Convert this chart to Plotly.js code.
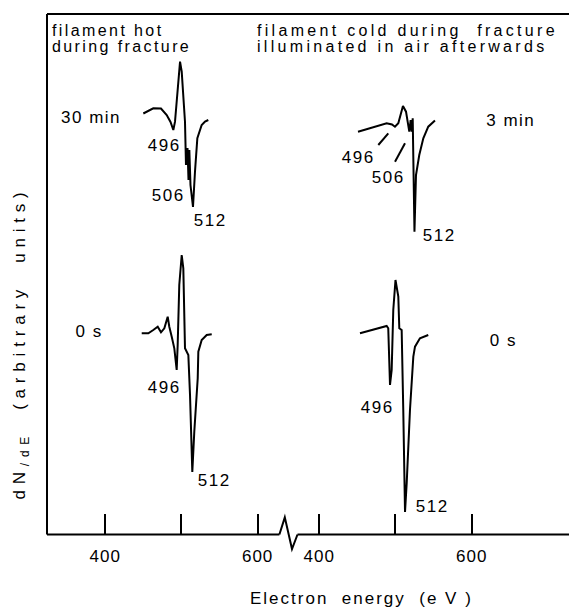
<!DOCTYPE html>
<html>
<head>
<meta charset="utf-8">
<script src="https://cdn.plot.ly/plotly-3.0.1.min.js"></script>
<style>
  html, body { margin: 0; padding: 0; background: #fff; }
  #chart { width: 569px; height: 611px; }
  .annotation text { letter-spacing: 1.5px; }
  .annotation[data-index="0"] text, .annotation[data-index="1"] text { letter-spacing: 2.4px; }
  .annotation[data-index="2"] text, .annotation[data-index="3"] text { letter-spacing: 3.3px; }
  .annotation[data-index="4"] text { letter-spacing: 5.8px; }
  .annotation[data-index="5"] text { letter-spacing: 2px; }
  .xtick text, .x2tick text { letter-spacing: 1px; }
</style>
</head>
<body>
<div id="chart"></div>
<script>
// ---- data (energy in eV on each panel's axis, dN/dE in arbitrary units) ----
const tickVals = [400, 600];
const tickText = ['400', '600'];
const minorTickVals = [500];

// left panel, upper: filament hot during fracture, 30 min
const hot30E = [450.0, 463.1, 473.2, 480.7, 485.7, 489.4, 491.6, 494.6, 498.2, 500.4, 502.8, 504.7, 506.0, 508.0, 509.3, 510.4, 511.9, 515.2, 517.8, 520.9, 526.6, 531.0, 535.3];
const hot30Y = [420.5, 425.7, 425.5, 419, 412, 404, 412.3, 439, 472.3, 462.3, 434, 412.3, 369, 386, 354, 384, 349, 327, 362, 395.7, 409, 412.5, 414];

// left panel, lower: filament hot during fracture, 0 s
const hot0E = [447.9, 456.6, 463.1, 468.9, 473.2, 477.6, 482.0, 484.1, 487.3, 490.7, 493.8, 495.1, 497.2, 500.4, 502.5, 503.8, 504.7, 509.1, 511.3, 514.3, 516.9, 521.4, 522.2, 526.6, 533.2, 539.8];
const hot0Y = [200.7, 200.7, 204, 207.3, 201.7, 205.7, 217.3, 207.3, 197.3, 185.7, 164, 189, 249, 279, 265.7, 222.3, 185.7, 179, 139, 62, 102.3, 155.7, 182.3, 194, 199, 199.7];

// right panel, upper: filament cold, illuminated in air, 3 min
const cold3E = [450.8, 461.3, 475.3, 488.4, 495.4, 499.3, 503.7, 506.6, 509.8, 513.8, 516.8, 518.1, 519.9, 521.3, 522.6, 523.6, 524.9, 526.9, 531.2, 536.5, 543.0, 551.8];
const cold3Y = [402.3, 404.5, 407.3, 410.7, 409.5, 407.3, 410.7, 420, 428, 422.3, 409, 402.3, 414, 402.3, 415.7, 374, 302.3, 359, 379, 395.7, 407.3, 413.5];

// right panel, lower: filament cold, 0 s
const cold0E = [453.4, 473.1, 488.4, 490.5, 492.8, 495.0, 497.1, 500.0, 503.7, 505.0, 508.1, 510.2, 512.5, 514.7, 519.0, 523.4, 525.6, 532.1, 543.0];
const cold0Y = [200.7, 204.7, 208, 205.7, 149, 164, 224, 254, 237.3, 205.7, 204, 124, 22, 50.7, 124, 177.3, 187.3, 195.7, 199];

const headerTexts = ['filament hot', 'during fracture', 'filament cold during\u00a0 fracture', 'illuminated in air afterwards'];
const timeLabels = ['30 min', '3 min', '0 s', '0 s'];
const peakLabels = ['496', '506', '512', '496', '506', '512', '496', '512', '496', '512'];
const yTitle = 'dN<sub>/dE</sub>\u00a0 (arbitrary\u00a0 units)';
const xTitle = 'Electron\u00a0 energy\u00a0 (e\u00a0V\u00a0)';

// ---- layout geometry (pixels of the 569x611 page) ----
const W = 569, H = 611, L = 47, R = 0, T = 14, B = 77;
const PW = W - L - R, PH = H - T - B;
const px = v => (v - L) / PW;
const py = v => (H - B - v) / PH;

const font = 'Liberation Sans, Arial, sans-serif';
const line = {color: '#000', width: 2};

const traces = [
  {x: hot30E, y: hot30Y, xaxis: 'x', yaxis: 'y'},
  {x: hot0E, y: hot0Y, xaxis: 'x', yaxis: 'y'},
  {x: cold3E, y: cold3Y, xaxis: 'x2', yaxis: 'y'},
  {x: cold0E, y: cold0Y, xaxis: 'x2', yaxis: 'y'}
].map(t => Object.assign(t, {type: 'scatter', mode: 'lines', line: {color: '#000', width: 2}, hoverinfo: 'skip', showlegend: false}));

function ann(text, x, y, opts, size) {
  return Object.assign({text: text, x: px(x), y: py(y), xref: 'paper', yref: 'paper',
    showarrow: false, xanchor: 'center', yanchor: 'middle',
    font: {family: font, size: size || 17, color: '#000'}}, opts || {});
}

const annotations = [
  ann(headerTexts[0], 50, 30, {xanchor: 'left', align: 'left'}, 16),
  ann(headerTexts[1], 50, 46, {xanchor: 'left', align: 'left'}, 16),
  ann(headerTexts[2], 255, 30, {xanchor: 'left', align: 'left'}, 16),
  ann(headerTexts[3], 255, 46, {xanchor: 'left', align: 'left'}, 16),
  ann(yTitle, 21, 343, {textangle: -90}),
  ann(xTitle, 361, 598),
  ann(timeLabels[0], 123, 118, {xanchor: 'right', align: 'right'}),
  ann(timeLabels[1], 511, 120),
  ann(timeLabels[2], 105, 331, {xanchor: 'right', align: 'right'}),
  ann(timeLabels[3], 503, 340),
  ann(peakLabels[0], 164, 145),
  ann(peakLabels[1], 168, 195.5),
  ann(peakLabels[2], 210, 220),
  ann(peakLabels[3], 358, 157),
  ann(peakLabels[4], 388, 177.5),
  ann(peakLabels[5], 439, 235),
  ann(peakLabels[6], 164, 387.5),
  ann(peakLabels[7], 213.5, 480.5),
  ann(peakLabels[8], 377, 407.5),
  ann(peakLabels[9], 432, 506)
];

function seg(x0, y0, x1, y1) {
  return {type: 'line', xref: 'paper', yref: 'paper', x0: px(x0), y0: py(y0), x1: px(x1), y1: py(y1), line: line};
}
const shapes = [
  seg(47, 14, 569, 14),            // top frame
  seg(47, 14, 47, 534.5),          // left frame
  seg(47, 534.5, 279.4, 534.5),    // bottom axis, left part
  {type: 'path', xref: 'paper', yref: 'paper', line: line,
   path: 'M ' + px(279.4) + ' ' + py(534.5) + ' L ' + px(284.8) + ' ' + py(517.4) +
         ' L ' + px(292) + ' ' + py(549) + ' L ' + px(297.5) + ' ' + py(534.5)},
  seg(297.5, 534.5, 569, 534.5),   // bottom axis, right part
  seg(378.3, 145, 388.3, 133.3),   // leader 496
  seg(395, 161.7, 405, 143.3)      // leader 506
];

const axisCommon = {
  tickmode: 'array', tickvals: tickVals, ticktext: tickText, ticks: 'inside', ticklen: 20, tickwidth: 2, tickcolor: '#000',
  minor: {tickmode: 'array', tickvals: minorTickVals, ticks: 'inside', ticklen: 20, tickwidth: 2, tickcolor: '#000', showgrid: false},
  showline: false, showgrid: false, zeroline: false, anchor: 'y', fixedrange: true,
  tickfont: {family: font, size: 17, color: '#000'}, ticklabelstandoff: 10
};

const layout = {
  width: W, height: H,
  margin: {l: L, r: R, t: T, b: B, pad: 0},
  paper_bgcolor: '#fff', plot_bgcolor: '#fff',
  showlegend: false,
  xaxis: Object.assign({}, axisCommon, {domain: [0, px(279.4)], range: [323.6, 628.6]}),
  xaxis2: Object.assign({}, axisCommon, {domain: [px(297.5), 1], range: [371.4, 727.7]}),
  yaxis: {range: [0, 520], showticklabels: false, ticks: '', showgrid: false, zeroline: false, showline: false, fixedrange: true},
  annotations: annotations,
  shapes: shapes
};

Plotly.newPlot('chart', traces, layout, {staticPlot: true, displayModeBar: false});
</script>
</body>
</html>
